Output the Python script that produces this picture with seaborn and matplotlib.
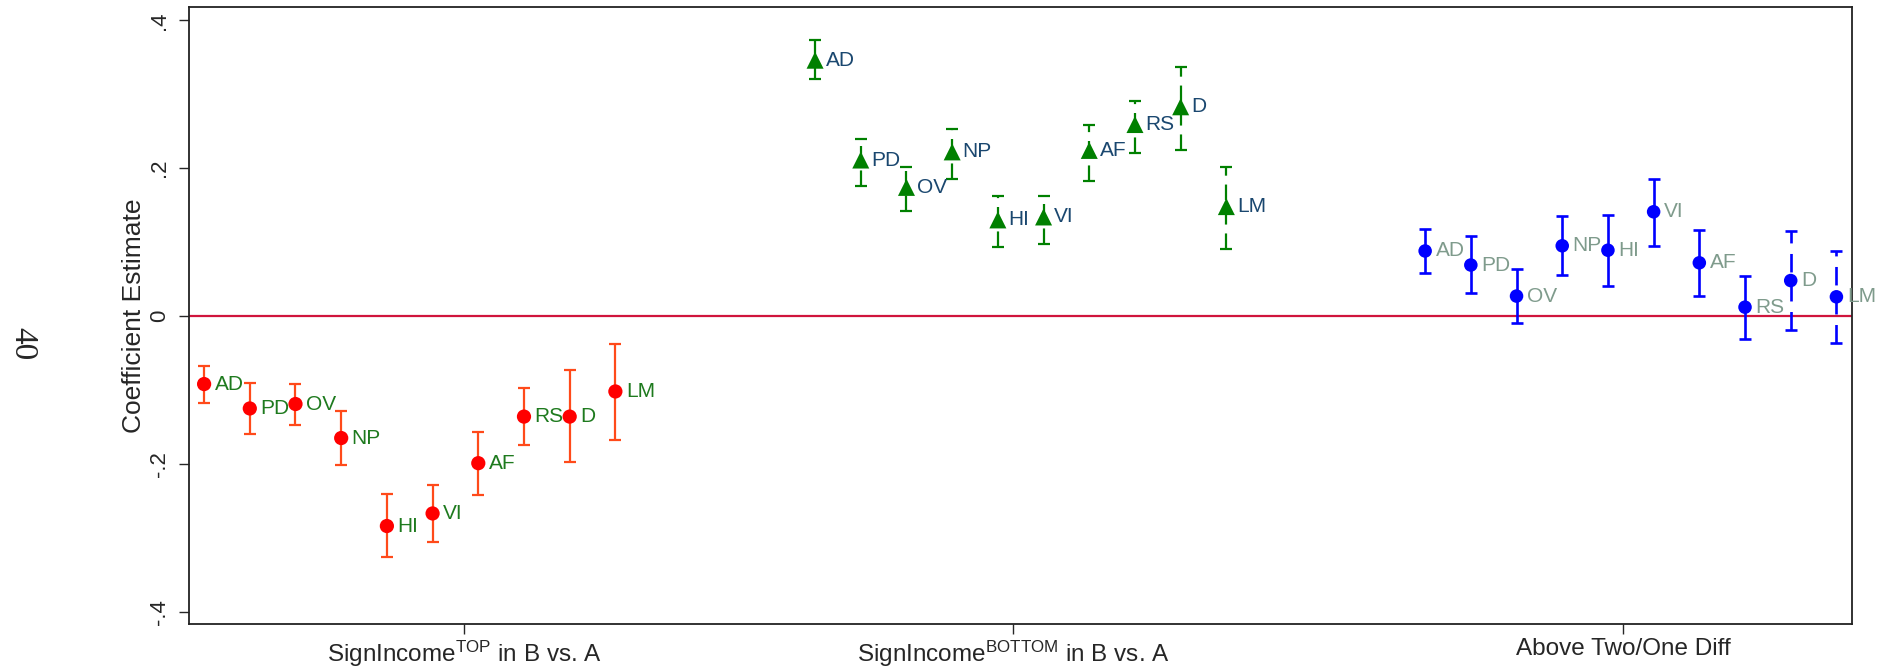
import numpy as np
import pandas as pd
import seaborn as sns
import matplotlib.pyplot as plt

# coefficient labels, same order in every group
labels = ["AD", "PD", "OV", "NP", "HI", "VI", "AF", "RS", "D", "LM"]
group_names = [
	"SignIncome$^{TOP}$ in B vs. A",
	"SignIncome$^{BOTTOM}$ in B vs. A",
	"Above Two/One Diff",
]

top_est = [-0.092, -0.125, -0.119, -0.165, -0.284, -0.267, -0.199, -0.136, -0.136, -0.102]
top_lo = [-0.117, -0.160, -0.147, -0.201, -0.326, -0.306, -0.242, -0.174, -0.197, -0.167]
top_hi = [-0.067, -0.091, -0.092, -0.129, -0.241, -0.229, -0.157, -0.098, -0.073, -0.038]

bottom_est = [0.346, 0.211, 0.174, 0.222, 0.130, 0.134, 0.224, 0.259, 0.283, 0.148]
bottom_lo = [0.321, 0.176, 0.142, 0.185, 0.093, 0.098, 0.183, 0.221, 0.224, 0.091]
bottom_hi = [0.374, 0.240, 0.201, 0.253, 0.162, 0.162, 0.259, 0.291, 0.337, 0.201]

diff_est = [0.088, 0.069, 0.027, 0.095, 0.089, 0.141, 0.072, 0.012, 0.048, 0.026]
diff_lo = [0.058, 0.031, -0.009, 0.055, 0.041, 0.095, 0.027, -0.031, -0.019, -0.036]
diff_hi = [0.118, 0.108, 0.063, 0.135, 0.136, 0.186, 0.116, 0.054, 0.115, 0.088]

ytick_vals = [0.4, 0.2, 0, -0.2, -0.4]
ytick_labels = [".4", ".2", "0", "-.2", "-.4"]

# layout / style
group_start = [0, 13.37, 26.72]
group_tick = [5.69, 17.70, 31.05]
marker_style = ["o", "^", "o"]
marker_size = [105, 150, 95]
marker_color = ["#FF0000", "#008000", "#0000FF"]
bar_color = ["#FF4A1A", "#008000", "#0000FF"]
bar_width = [1.6, 1.6, 1.9]
label_color = ["#1E7A1E", "#1A476F", "#7F9B8C"]
dashed = [
	[False] * 10,
	[True] * 10,
	[False] * 8 + [True, True],
]

rows = []
for g, (est, lo, hi) in enumerate([
	(top_est, top_lo, top_hi),
	(bottom_est, bottom_lo, bottom_hi),
	(diff_est, diff_lo, diff_hi),
]):
	for i, lab in enumerate(labels):
		rows.append({
			"group": g, "label": lab, "x": group_start[g] + i,
			"est": est[i], "lo": lo[i], "hi": hi[i], "dash": dashed[g][i],
		})
df = pd.DataFrame(rows)

sns.set_style("ticks")
plt.rcParams["font.family"] = ["Liberation Sans", "DejaVu Sans"]
plt.rcParams["mathtext.fontset"] = "custom"
plt.rcParams["mathtext.rm"] = "Liberation Sans"
plt.rcParams["mathtext.default"] = "regular"

fig = plt.figure(figsize=(18.94, 6.68), dpi=100)
ax = fig.add_axes([0.0998, 0.066, 0.878, 0.923])

ax.axhline(0, color="#D0143C", lw=1.6, zorder=1)

for _, r in df.iterrows():
	g = r["group"]
	eb = ax.errorbar(
		r["x"], r["est"],
		yerr=[[r["est"] - r["lo"]], [r["hi"] - r["est"]]],
		fmt="none", ecolor=bar_color[g], elinewidth=bar_width[g],
		capsize=4.6, capthick=bar_width[g], zorder=2,
	)
	if r["dash"]:
		eb.lines[2][0].set_linestyle((0, (7, 4)))
	ax.annotate(
		r["label"], (r["x"], r["est"]), xytext=(7.5, 0),
		textcoords="offset points", ha="left", va="center",
		fontsize=15, color=label_color[g], zorder=4,
	)

sns.scatterplot(
	data=df, x="x", y="est", hue="group", style="group", size="group",
	palette=dict(enumerate(marker_color)),
	markers=dict(enumerate(marker_style)),
	sizes=dict(enumerate(marker_size)),
	linewidth=0, legend=False, ax=ax, zorder=3,
)

ax.set_xlim(-0.33, 36.06)
ax.set_ylim(-0.4164, 0.4175)
ax.set_xticks(group_tick, labels=group_names, fontsize=17.5)
ax.set_yticks(ytick_vals, labels=ytick_labels, fontsize=16)
ax.tick_params(axis="y", labelrotation=90, length=7.5, width=1, pad=6)
ax.tick_params(axis="x", length=7.5, width=1, pad=3)
for t in ax.get_yticklabels():
	t.set_va("center")
ax.set_xlabel("")
ax.set_ylabel("Coefficient Estimate", fontsize=19, labelpad=2)
for s in ax.spines.values():
	s.set_linewidth(1.3)
	s.set_color("#222222")

fig.text(0.012, 0.485, "40", rotation=-90, fontsize=24,
	family=["Liberation Serif", "DejaVu Serif"], ha="center", va="center")

fig.savefig("out.png", dpi=100)
